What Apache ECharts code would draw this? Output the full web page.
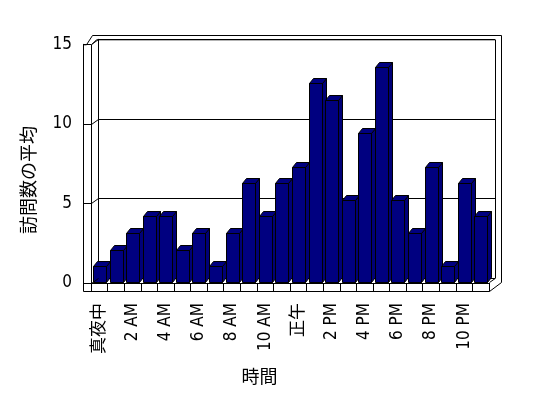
<!DOCTYPE html>
<html><head><meta charset="utf-8">
<script src="https://cdn.jsdelivr.net/npm/echarts@6/dist/echarts.min.js"></script>
<style>html,body{margin:0;padding:0;background:#fff}#c{width:548px;height:398px}</style>
</head><body><div id="c"></div>
<script>
// ---- data ----
const hours = ['真夜中','1 AM','2 AM','3 AM','4 AM','5 AM','6 AM','7 AM','8 AM','9 AM','10 AM','11 AM',
               '正午','1 PM','2 PM','3 PM','4 PM','5 PM','6 PM','7 PM','8 PM','9 PM','10 PM','11 PM'];
const visits = [1,2,3,4,4,2,3,1,3,6,4,6,7,12,11,5,9,13,5,3,7,1,6,4];
const yTicks = [0,5,10,15];
const yTitle = '訪問数の平均';
const xTitle = '時間';

// ---- layout ----
const W = 548, H = 398;
const F = {l:91, r:489, t:44.3, b:283};     // front plane
const B = {l:98, r:495, t:39.3, b:277.8};   // back wall
const OUT = {l:83, b:291.5, r:501, t:35};   // slab outer edges
const FONT = '"DejaVu Sans Condensed","Noto Sans CJK JP",sans-serif';
const CJK = '"Noto Sans CJK JP",sans-serif';

const chart = echarts.init(document.getElementById('c'), null, {renderer:'canvas'});
const ln = (x1,y1,x2,y2)=>({type:'line', silent:true, z:50, shape:{x1,y1,x2,y2}, style:{stroke:'#000', lineWidth:1}});
const pl = (pts,z)=>({type:'polyline', silent:true, z:z||50, shape:{points:pts}, style:{stroke:'#000', lineWidth:1, fill:null}});

const option = {
  animation:false,
  backgroundColor:'#fff',
  grid:[
    {left:F.l, right:W-F.r, top:F.t, bottom:H-F.b},
    {left:B.l, right:W-B.r, top:B.t, bottom:H-B.b}
  ],
  xAxis:[
    {type:'category', gridIndex:0, data:hours, boundaryGap:true, z:20,
     axisLine:{show:true, lineStyle:{color:'#000', width:1}},
     axisTick:{show:true, interval:0, length:8.5, lineStyle:{color:'#000', width:1}},
     axisLabel:{interval:1, rotate:90, margin:20, color:'#000', fontSize:17, fontFamily:FONT},
     splitLine:{show:false}},
    {type:'category', gridIndex:1, data:hours, show:false}
  ],
  yAxis:[
    {type:'value', gridIndex:0, min:yTicks[0], max:yTicks[yTicks.length-1], interval:yTicks[1]-yTicks[0],
     position:'left', offset:F.l-OUT.l, z:20,
     axisLine:{show:true, lineStyle:{color:'#000', width:1}},
     axisTick:{show:true, inside:true, length:F.l-OUT.l, lineStyle:{color:'#000'}},
     axisLabel:{margin:11, color:'#000', fontSize:17, fontFamily:FONT, padding:[9,0,0,0]},
     splitLine:{show:false}},
    {type:'value', gridIndex:0, min:0, max:14.35, show:false},
    {type:'value', gridIndex:1, min:yTicks[0], max:yTicks[yTicks.length-1], interval:yTicks[1]-yTicks[0],
     axisLine:{show:true, lineStyle:{color:'#000'}}, axisTick:{show:false}, axisLabel:{show:false},
     splitLine:{show:true, lineStyle:{color:'#000', width:1}}}
  ],
  series:[{
    type:'custom', xAxisIndex:0, yAxisIndex:1, z:30,
    data: visits.map((v,i)=>[i,v]),
    renderItem:(params, api)=>{
      const i = api.value(0), v = api.value(1);
      const top = api.coord([i,v]), base = api.coord([i,0]);
      const band = api.size([1,0])[0];
      const w = Math.round(band*0.8);
      const dx = Math.round(band*0.27), dy = -5;
      const x0 = Math.round(top[0]-band*0.38)+0.5, x1 = x0+w;
      const y0 = Math.round(top[1])+0.5, y1 = Math.round(base[1])-0.5;
      const st = (c)=>({fill:c, stroke:'#000', lineWidth:1});
      return {type:'group', children:[
        {type:'polygon', shape:{points:[[x1,y1],[x1,y0],[x1+dx,y0+dy],[x1+dx,y1+dy]]}, style:st('#000078')},
        {type:'polygon', shape:{points:[[x0,y0],[x0+dx,y0+dy],[x1+dx,y0+dy],[x1,y0]]}, style:st('#000080')},
        {type:'rect', shape:{x:x0, y:y0, width:w, height:y1-y0}, style:st('#000080')}
      ]};
    }
  }],
  graphic:[]
};
chart.setOption(option);

// 3D frame decorations derived from axes
const g = [];
yTicks.forEach(t=>{
  const yf = Math.round(chart.convertToPixel({xAxisIndex:0, yAxisIndex:0},[0,t])[1])+0.5;
  const yb = Math.round(chart.convertToPixel({xAxisIndex:1, yAxisIndex:2},[0,t])[1])+0.5;
  g.push(ln(F.l+0.5, yf, B.l+0.5, yb));
});
g.push(ln(OUT.l+0.5, F.t, OUT.l+0.5, OUT.b));
g.push(ln(OUT.l+0.5, OUT.b, F.r+0.5, OUT.b));
g.push(pl([[OUT.l+0.5, F.t+0.5],[OUT.l+3.5, F.t+0.5],[F.l+1.5, OUT.t+0.5],[OUT.r+0.5, OUT.t+0.5],[OUT.r+0.5, F.b-0.5],[F.r+0.5, OUT.b]]));
g.push(pl([[F.l+0.5, F.b],[F.l+0.5, F.t+0.5],[F.l+5.5, B.t+0.5],[B.r+0.5, B.t+0.5],[B.r+0.5, B.b+0.5],[F.r+0.5, F.b-0.5]]));
g.push({type:'text', silent:true, x:28, y:180, rotation:Math.PI/2,
  style:{text:yTitle, font:'18px '+CJK, fill:'#000', textAlign:'center', textVerticalAlign:'middle'}});
g.push({type:'text', silent:true, x:259.5, y:376,
  style:{text:xTitle, font:'18px '+CJK, fill:'#000', textAlign:'center', textVerticalAlign:'middle'}});
chart.setOption({graphic:g});
</script>
</body></html>
